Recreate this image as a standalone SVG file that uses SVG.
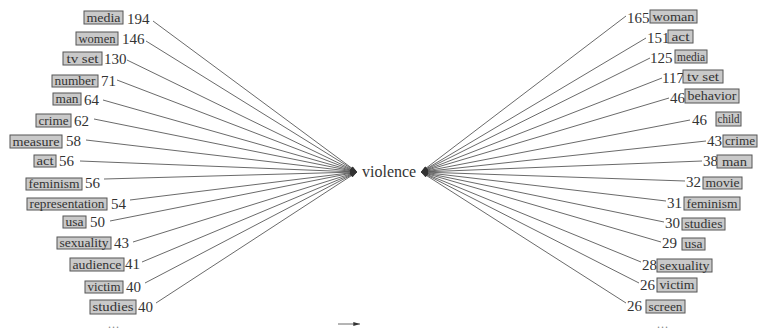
<svg xmlns="http://www.w3.org/2000/svg" width="758" height="335" viewBox="0 0 758 335" font-family="'Liberation Serif', 'DejaVu Serif', 'Times New Roman', serif">
<style>
.bg{fill:#fff}
.box rect{fill:#c9c9c9;stroke:#555;stroke-width:1}
text{font-family:'Liberation Serif','DejaVu Serif','Times New Roman',serif}
.w{font-size:13px;fill:#333;text-anchor:middle}
.n{font-size:15px;fill:#333}
.c{font-size:16px;fill:#333}
.dots{font-size:12px;fill:#888;text-anchor:middle;letter-spacing:1px}
#edges line{stroke:#444;stroke-width:0.8;marker-end:url(#ah)}
</style>
<defs>
<marker id="ah" viewBox="0 0 10 6" refX="10" refY="3" markerWidth="8" markerHeight="4" markerUnits="userSpaceOnUse" orient="auto">
<path d="M0,0 L10,3 L0,6 z" fill="#333"/>
</marker>
</defs>
<rect class="bg" x="0" y="0" width="758" height="335"/>
<g id="edges">
<line x1="153" y1="21" x2="357" y2="172"/>
<line x1="146" y1="41" x2="357" y2="172"/>
<line x1="127" y1="60" x2="357" y2="172"/>
<line x1="117" y1="80" x2="357" y2="172"/>
<line x1="103" y1="100" x2="357" y2="172"/>
<line x1="94" y1="119" x2="357" y2="172"/>
<line x1="86" y1="140" x2="357" y2="172"/>
<line x1="80" y1="161" x2="357" y2="172"/>
<line x1="104" y1="179" x2="357" y2="172"/>
<line x1="130" y1="200" x2="357" y2="172"/>
<line x1="110" y1="221" x2="357" y2="172"/>
<line x1="133" y1="242" x2="357" y2="172"/>
<line x1="142" y1="262" x2="357" y2="172"/>
<line x1="145" y1="283" x2="357" y2="172"/>
<line x1="156" y1="303" x2="357" y2="172"/>
<line x1="626" y1="16" x2="421" y2="172"/>
<line x1="646" y1="38" x2="421" y2="172"/>
<line x1="650" y1="58" x2="421" y2="172"/>
<line x1="662" y1="78" x2="421" y2="172"/>
<line x1="669" y1="98" x2="421" y2="172"/>
<line x1="690" y1="120" x2="421" y2="172"/>
<line x1="706" y1="141" x2="421" y2="172"/>
<line x1="702" y1="161" x2="421" y2="172"/>
<line x1="685" y1="181" x2="421" y2="172"/>
<line x1="666" y1="201" x2="421" y2="172"/>
<line x1="664" y1="222" x2="421" y2="172"/>
<line x1="661" y1="242" x2="421" y2="172"/>
<line x1="641" y1="262" x2="421" y2="172"/>
<line x1="639" y1="283" x2="421" y2="172"/>
<line x1="626" y1="303" x2="421" y2="172"/>
<line x1="338" y1="324" x2="360" y2="324"/>
</g>
<g id="center"><text class="c" x="362" y="177">violence</text></g>
<g id="l1" class="box"><rect x="84" y="11" width="39" height="13"/><text class="w" x="103.5" y="21.5" textLength="34" lengthAdjust="spacingAndGlyphs">media</text><text class="n" x="127" y="24">194</text></g>
<g id="l2" class="box"><rect x="76" y="32" width="42" height="13"/><text class="w" x="97" y="42.5" textLength="37" lengthAdjust="spacingAndGlyphs">women</text><text class="n" x="122" y="44">146</text></g>
<g id="l3" class="box"><rect x="63" y="52" width="39" height="13"/><text class="w" x="82.5" y="62.5" textLength="32" lengthAdjust="spacingAndGlyphs">tv set</text><text class="n" x="104" y="64">130</text></g>
<g id="l4" class="box"><rect x="52" y="75" width="46" height="12"/><text class="w" x="75" y="85" textLength="41" lengthAdjust="spacingAndGlyphs">number</text><text class="n" x="101" y="86">71</text></g>
<g id="l5" class="box"><rect x="53" y="93" width="28" height="12"/><text class="w" x="67" y="103" textLength="23" lengthAdjust="spacingAndGlyphs">man</text><text class="n" x="84" y="105">64</text></g>
<g id="l6" class="box"><rect x="36" y="114" width="35" height="13"/><text class="w" x="53.5" y="124.5" textLength="30" lengthAdjust="spacingAndGlyphs">crime</text><text class="n" x="74" y="126">62</text></g>
<g id="l7" class="box"><rect x="10" y="135" width="52" height="13"/><text class="w" x="36" y="145.5" textLength="47" lengthAdjust="spacingAndGlyphs">measure</text><text class="n" x="66" y="146">58</text></g>
<g id="l8" class="box"><rect x="34" y="155" width="22" height="12"/><text class="w" x="45" y="165" textLength="17" lengthAdjust="spacingAndGlyphs">act</text><text class="n" x="59" y="166">56</text></g>
<g id="l9" class="box"><rect x="26" y="178" width="56" height="12"/><text class="w" x="54" y="188" textLength="51" lengthAdjust="spacingAndGlyphs">feminism</text><text class="n" x="85" y="188">56</text></g>
<g id="l10" class="box"><rect x="27" y="198" width="80" height="12"/><text class="w" x="67" y="208" textLength="75" lengthAdjust="spacingAndGlyphs">representation</text><text class="n" x="111" y="209">54</text></g>
<g id="l11" class="box"><rect x="63" y="216" width="23" height="12"/><text class="w" x="74.5" y="226" textLength="18" lengthAdjust="spacingAndGlyphs">usa</text><text class="n" x="90" y="227">50</text></g>
<g id="l12" class="box"><rect x="57" y="237" width="54" height="12"/><text class="w" x="84" y="247" textLength="49" lengthAdjust="spacingAndGlyphs">sexuality</text><text class="n" x="114" y="248">43</text></g>
<g id="l13" class="box"><rect x="70" y="258" width="54" height="13"/><text class="w" x="97" y="268.5" textLength="49" lengthAdjust="spacingAndGlyphs">audience</text><text class="n" x="125" y="269">41</text></g>
<g id="l14" class="box"><rect x="85" y="281" width="38" height="12"/><text class="w" x="104" y="291" textLength="33" lengthAdjust="spacingAndGlyphs">victim</text><text class="n" x="126" y="292">40</text></g>
<g id="l15" class="box"><rect x="90" y="300" width="46" height="14"/><text class="w" x="113" y="311" textLength="41" lengthAdjust="spacingAndGlyphs">studies</text><text class="n" x="138" y="312">40</text></g>
<g id="r1" class="box"><text class="n" x="627" y="23">165</text><rect x="650" y="10" width="47" height="13"/><text class="w" x="673.5" y="20.5" textLength="42" lengthAdjust="spacingAndGlyphs">woman</text></g>
<g id="r2" class="box"><text class="n" x="647" y="43">151</text><rect x="668" y="30" width="25" height="13"/><text class="w" x="680.5" y="40.5" textLength="18" lengthAdjust="spacingAndGlyphs">act</text></g>
<g id="r3" class="box"><text class="n" x="650" y="63">125</text><rect x="675" y="50" width="32" height="13"/><text class="w" x="691" y="60.5" textLength="28" lengthAdjust="spacingAndGlyphs">media</text></g>
<g id="r4" class="box"><text class="n" x="662" y="83">117</text><rect x="683" y="70" width="40" height="13"/><text class="w" x="703" y="80.5" textLength="32" lengthAdjust="spacingAndGlyphs">tv set</text></g>
<g id="r5" class="box"><text class="n" x="670" y="103">46</text><rect x="685" y="89" width="54" height="14"/><text class="w" x="712" y="100" textLength="49" lengthAdjust="spacingAndGlyphs">behavior</text></g>
<g id="r6" class="box"><text class="n" x="692" y="125">46</text><rect x="716" y="112" width="25" height="14"/><text class="w" x="728.5" y="123" textLength="22" lengthAdjust="spacingAndGlyphs">child</text></g>
<g id="r7" class="box"><text class="n" x="707" y="146">43</text><rect x="723" y="135" width="34" height="12"/><text class="w" x="740" y="145" textLength="30" lengthAdjust="spacingAndGlyphs">crime</text></g>
<g id="r8" class="box"><text class="n" x="703" y="166">38</text><rect x="717" y="155" width="35" height="13"/><text class="w" x="734.5" y="165.5" textLength="25" lengthAdjust="spacingAndGlyphs">man</text></g>
<g id="r9" class="box"><text class="n" x="686" y="187">32</text><rect x="703" y="177" width="39" height="12"/><text class="w" x="722.5" y="187" textLength="34" lengthAdjust="spacingAndGlyphs">movie</text></g>
<g id="r10" class="box"><text class="n" x="667" y="208">31</text><rect x="684" y="197" width="56" height="13"/><text class="w" x="712" y="207.5" textLength="51" lengthAdjust="spacingAndGlyphs">feminism</text></g>
<g id="r11" class="box"><text class="n" x="665" y="228">30</text><rect x="682" y="218" width="43" height="12"/><text class="w" x="703.5" y="228" textLength="38" lengthAdjust="spacingAndGlyphs">studies</text></g>
<g id="r12" class="box"><text class="n" x="662" y="248">29</text><rect x="682" y="238" width="23" height="12"/><text class="w" x="693.5" y="248" textLength="18" lengthAdjust="spacingAndGlyphs">usa</text></g>
<g id="r13" class="box"><text class="n" x="642" y="270">28</text><rect x="657" y="259" width="55" height="13"/><text class="w" x="684.5" y="269.5" textLength="50" lengthAdjust="spacingAndGlyphs">sexuality</text></g>
<g id="r14" class="box"><text class="n" x="640" y="290">26</text><rect x="657" y="278" width="40" height="14"/><text class="w" x="677" y="289" textLength="35" lengthAdjust="spacingAndGlyphs">victim</text></g>
<g id="r15" class="box"><text class="n" x="627" y="311">26</text><rect x="646" y="300" width="39" height="13"/><text class="w" x="665.5" y="310.5" textLength="34" lengthAdjust="spacingAndGlyphs">screen</text></g>
<text class="dots" x="114" y="328">...</text>
<text class="dots" x="663" y="328">...</text>
</svg>
